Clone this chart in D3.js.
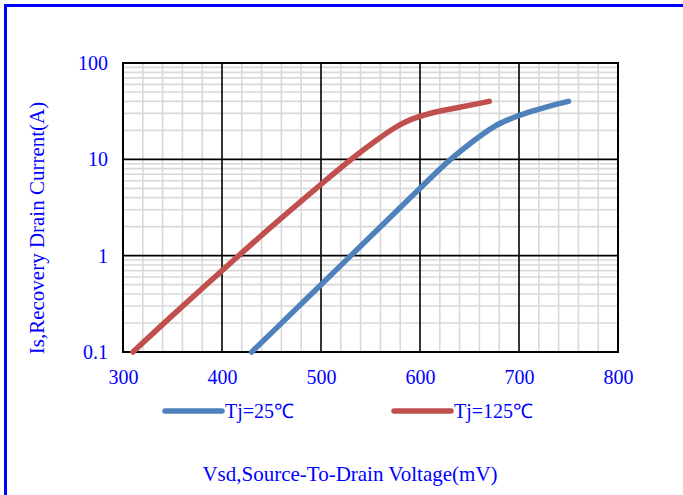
<!DOCTYPE html>
<html><head><meta charset="utf-8">
<script src="https://cdn.jsdelivr.net/npm/d3@7"></script>
<style>body{margin:0;background:#fff}svg{display:block}</style>
</head><body>
<script>
const xTicks = [300, 400, 500, 600, 700, 800];
const yTicks = [0.1, 1, 10, 100];
const yTickLabels = ["0.1", "1", "10", "100"];
const seriesNames = ["Tj=25\u2103", "Tj=125\u2103"];
const vsd25 = [430, 450, 500, 550, 600, 630, 655, 675, 690, 710, 730, 750];
const is25  = [0.1, 0.158, 0.5, 1.58, 5.0, 9.8, 15.8, 21.9, 26, 30.9, 35.5, 40];
const vsd125 = [310, 350, 400, 450, 500, 530, 555, 575, 590, 610, 640, 670];
const is125  = [0.1, 0.24, 0.70, 2.0, 5.5, 9.9, 15.5, 21.4, 25.7, 29.9, 34.7, 40];
const colors = ["#4F81BD", "#C0504D"];

const W = 683, H = 495;
const svg = d3.select("body").append("svg").attr("width", W).attr("height", H);
const font = "'Liberation Serif','Times New Roman',serif";
const blue = "#0000FF";

const x = d3.scaleLinear().domain([300, 800]).range([123, 618]);
const y = d3.scaleLog().domain([0.1, 100]).range([352, 63]);

// border
svg.append("rect").attr("x", 5.5).attr("y", 5.5).attr("width", W + 20).attr("height", H + 20)
  .attr("fill", "none").attr("stroke", blue).attr("stroke-width", 3);

// minor grid
const minorX = d3.range(300, 801, 20).filter(v => v % 100 !== 0);
const minorY = [];
[0.1, 1, 10].forEach(d => { for (let k = 2; k <= 9; k++) minorY.push(d * k); });
const g = svg.append("g");
g.selectAll(".mx").data(minorX).join("line")
  .attr("x1", d => x(d)).attr("x2", d => x(d)).attr("y1", y(0.1)).attr("y2", y(100))
  .attr("stroke", "#d9d9d9").attr("stroke-width", 1.6);
g.selectAll(".my").data(minorY).join("line")
  .attr("x1", x(300)).attr("x2", x(800)).attr("y1", d => y(d)).attr("y2", d => y(d))
  .attr("stroke", "#d9d9d9").attr("stroke-width", 1.6);
// major grid
g.selectAll(".Mx").data(xTicks.slice(1, -1)).join("line")
  .attr("x1", d => x(d)).attr("x2", d => x(d)).attr("y1", y(0.1)).attr("y2", y(100))
  .attr("stroke", "#000").attr("stroke-width", 1.6);
g.selectAll(".My").data(yTicks.slice(1, -1)).join("line")
  .attr("x1", x(300)).attr("x2", x(800)).attr("y1", d => y(d)).attr("y2", d => y(d))
  .attr("stroke", "#000").attr("stroke-width", 1.6);
svg.append("rect").attr("x", x(300)).attr("y", y(100)).attr("width", x(800) - x(300)).attr("height", y(0.1) - y(100))
  .attr("fill", "none").attr("stroke", "#000").attr("stroke-width", 2);

// axes tick labels
const xAxis = d3.axisBottom(x).tickValues(xTicks).tickSize(0).tickPadding(18);
const xa = svg.append("g").attr("transform", `translate(0,${y(0.1)})`).call(xAxis);
xa.select(".domain").remove();
xa.selectAll("text").attr("font-family", font).attr("font-size", 20).attr("fill", blue);

const yAxis = d3.axisLeft(y).tickValues(yTicks).tickFormat((d, i) => yTickLabels[i]).tickSize(0).tickPadding(15);
const ya = svg.append("g").attr("transform", `translate(${x(300)},0)`).call(yAxis);
ya.select(".domain").remove();
ya.selectAll("text").attr("font-family", font).attr("font-size", 20).attr("fill", blue);

// curves
const line = d3.line().x(d => x(d[0])).y(d => y(d[1])).curve(d3.curveCatmullRom.alpha(0.5));
const series = [d3.zip(vsd25, is25), d3.zip(vsd125, is125)];
svg.selectAll(".curve").data(series).join("path")
  .attr("d", line).attr("fill", "none").attr("stroke", (d, i) => colors[i])
  .attr("stroke-width", 5.5).attr("stroke-linecap", "round").attr("stroke-linejoin", "round");

// legend
const legX = [165, 394];
const leg = svg.selectAll(".leg").data(seriesNames).join("g").attr("transform", (d, i) => `translate(${legX[i]},411)`);
leg.append("line").attr("x1", 0).attr("x2", 57).attr("y1", 0).attr("y2", 0)
  .attr("stroke", (d, i) => colors[i]).attr("stroke-width", 5.5).attr("stroke-linecap", "round");
leg.append("text").attr("x", 60).attr("y", 7).text(d => d)
  .attr("font-family", font).attr("font-size", 20).attr("fill", blue);

// axis titles
svg.append("text").attr("x", 350).attr("y", 481).attr("text-anchor", "middle")
  .attr("font-family", font).attr("font-size", 21).attr("fill", blue)
  .text("Vsd,Source-To-Drain Voltage(mV)");
svg.append("text").attr("transform", "translate(44,228) rotate(-90)").attr("text-anchor", "middle")
  .attr("font-family", font).attr("font-size", 21).attr("fill", blue)
  .text("Is,Recovery Drain Current(A)");
</script>
</body></html>
